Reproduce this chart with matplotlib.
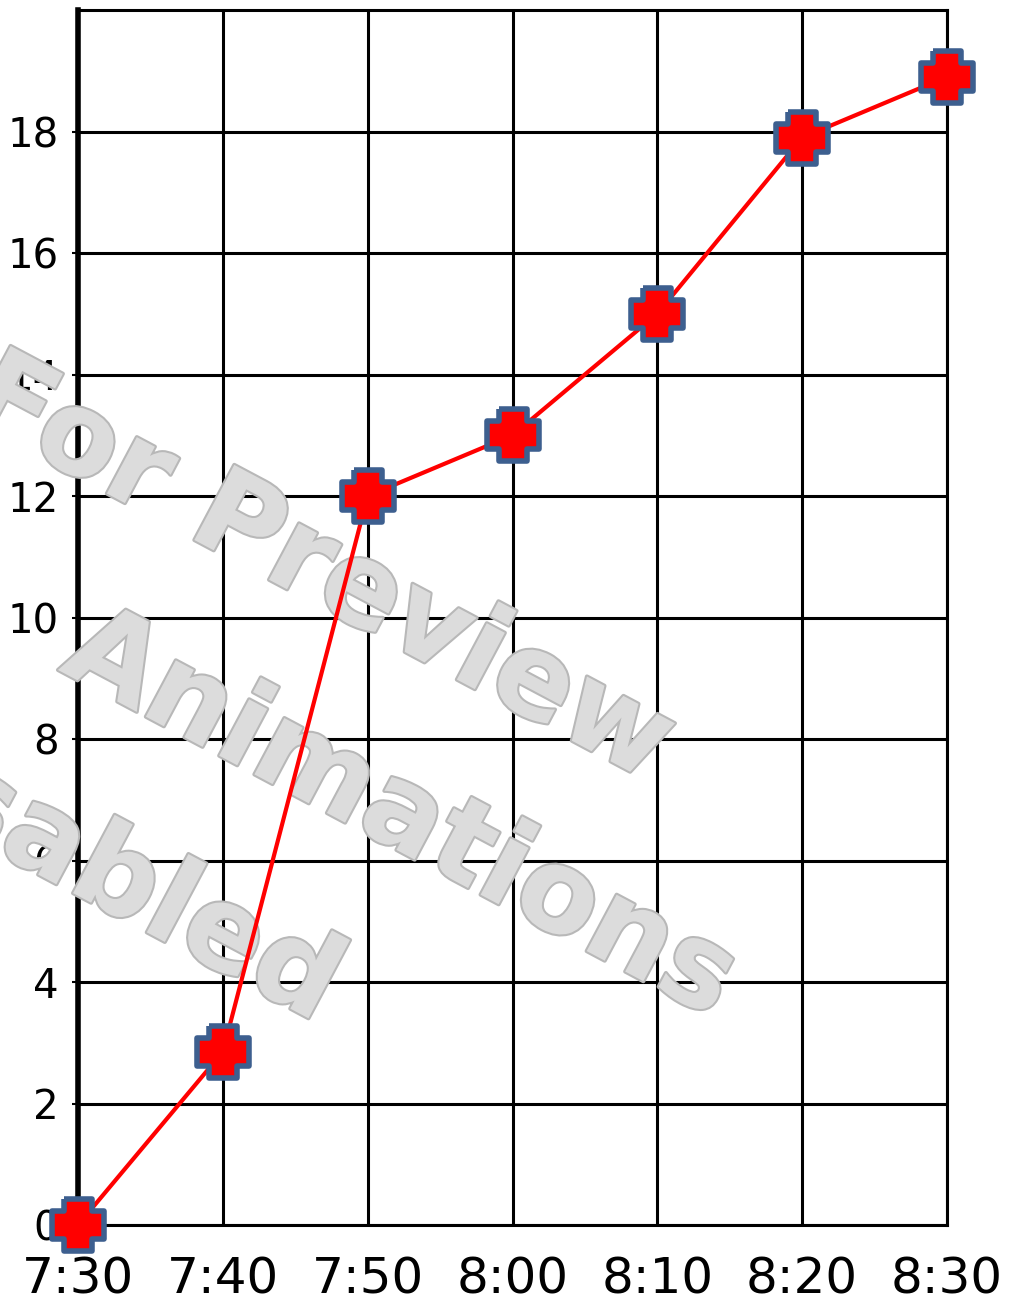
import matplotlib.pyplot as plt
import matplotlib.patheffects as pe
from matplotlib.path import Path

# data
times = ['7:30', '7:40', '7:50', '8:00', '8:10', '8:20', '8:30']
values = [0, 2.85, 12, 13, 15, 17.9, 18.9]
y_ticks = [0, 2, 4, 6, 8, 10, 12, 14, 16, 18]

plt.rcParams['font.family'] = ['DejaVu Sans']

# fat plus marker
a, b = 0.27, 0.5
plus = Path([(-a, b), (a, b), (a, a), (b, a), (b, -a), (a, -a), (a, -b),
             (-a, -b), (-a, -a), (-b, -a), (-b, a), (-a, a), (-a, b)])

fig = plt.figure(figsize=(10.18, 13.05), dpi=100)
ax = fig.add_axes([78 / 1018, 1 - 1225 / 1305, (947 - 78) / 1018, (1225 - 10) / 1305])

x = list(range(len(times)))
ax.plot(x, values, color='red', lw=3, zorder=4)
ax.plot(x, values, ls='none', marker=plus, ms=37, mfc='red', mec='#3d5f8f',
        mew=4, zorder=5, clip_on=False)

ax.set_xlim(0, 6)
ax.set_ylim(0, 20)
ax.set_xticks(x)
ax.set_xticklabels(times)
ax.set_yticks(y_ticks)
ax.tick_params(axis='x', length=0, pad=22, labelsize=36)
ax.tick_params(axis='y', length=4, width=1.5, pad=10, labelsize=29)
ax.grid(True, color='black', lw=2.2, zorder=1)
ax.set_axisbelow(True)

for s in ['top', 'right', 'bottom']:
    ax.spines[s].set_linewidth(2.2)
ax.spines['left'].set_linewidth(4)

# watermark
wm = dict(color='#dcdcdc', fontsize=84, fontweight='bold', rotation=-28,
          ha='center', va='center', transform=fig.transFigure, zorder=3,
          clip_on=False,
          path_effects=[pe.withStroke(linewidth=3, foreground='#b8b8b8')])
ax.text(320 / 1018, 1 - 570 / 1305, 'For Preview', **wm)
ax.text(400 / 1018, 1 - 815 / 1305, 'Animations', **wm)
ax.text(80 / 1018, 1 - 860 / 1305, 'Disabled', **wm)

fig.savefig('out.png', dpi=100)
